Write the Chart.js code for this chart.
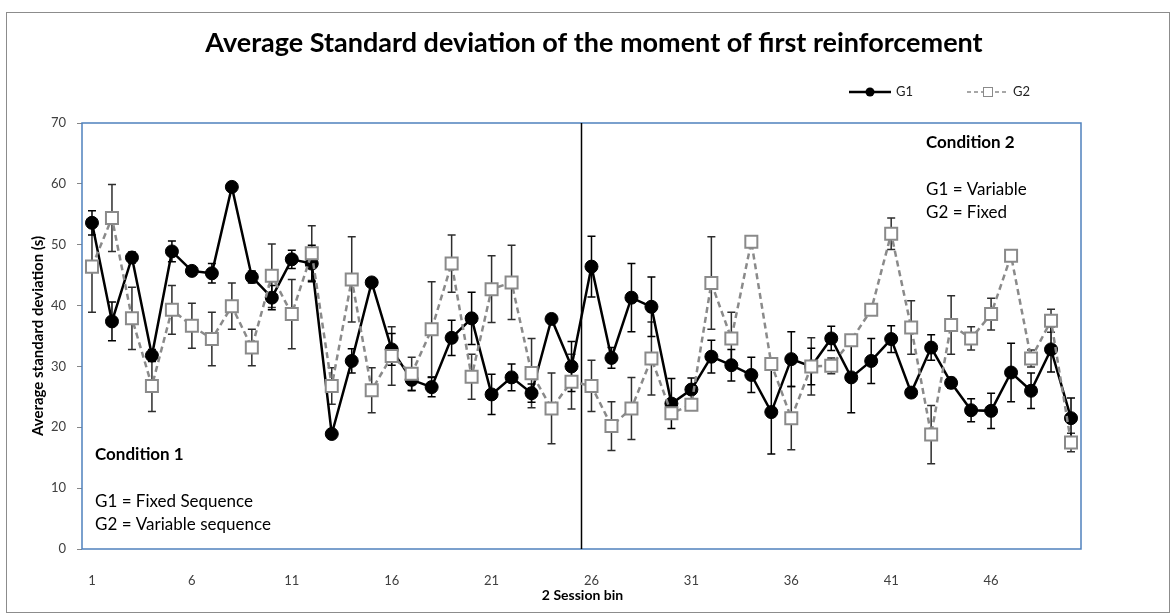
<!DOCTYPE html>
<html>
<head>
<meta charset="utf-8">
<title>Average standard deviation of the moment of first reinforcement</title>
<script src="https://cdn.jsdelivr.net/npm/chart.js@4.4.1/dist/chart.umd.min.js"></script>
<style>
  body { margin: 0; background: #fff; }
  canvas { display: block; }
</style>
</head>
<body>
<canvas id="sdChart" width="1175" height="615"></canvas>
<script>
const bins = ['1','2','3','4','5','6','7','8','9','10','11','12','13','14','15','16','17','18','19','20',
  '21','22','23','24','25','26','27','28','29','30','31','32','33','34','35','36','37','38','39','40',
  '41','42','43','44','45','46','47','48','49','50'];
const xTickLabels = ['1', '6', '11', '16', '21', '26', '31', '36', '41', '46'];
const yTicks = [0, 10, 20, 30, 40, 50, 60, 70];

// G1 mean and error per bin
const g1 = [53.6, 37.4, 47.9, 31.8, 48.9, 45.7, 45.3, 59.5, 44.7, 41.3,
  47.6, 46.9, 18.9, 30.9, 43.8, 32.8, 27.8, 26.6, 34.7, 37.9,
  25.4, 28.2, 25.6, 37.8, 30.0, 46.4, 31.4, 41.3, 39.8, 23.9,
  26.2, 31.6, 30.2, 28.6, 22.5, 31.2, 30.0, 34.6, 28.2, 30.9,
  34.5, 25.7, 33.1, 27.3, 22.8, 22.7, 29.0, 26.0, 32.8, 21.5];
const g1Err = [2.0, 3.2, 0.9, 1.0, 1.7, 0.5, 1.6, 0.4, 1.0, 2.0,
  1.5, 3.0, 0.5, 2.0, 0.4, 2.6, 1.8, 1.6, 2.9, 4.3,
  3.3, 2.2, 1.5, 0.3, 4.1, 5.0, 1.7, 5.6, 4.9, 4.1,
  1.9, 2.7, 2.6, 2.9, 6.9, 4.5, 3.0, 2.0, 5.8, 3.7,
  2.2, 0.3, 2.1, 0.9, 1.9, 2.9, 4.8, 2.9, 3.7, 3.3];

// G2 mean and error per bin
const g2 = [46.4, 54.4, 37.9, 26.8, 39.3, 36.7, 34.5, 39.9, 33.1, 44.9,
  38.6, 48.6, 26.8, 44.3, 26.1, 31.7, 28.8, 36.1, 46.9, 28.3,
  42.7, 43.8, 28.9, 23.1, 27.5, 26.8, 20.2, 23.1, 31.3, 22.3,
  23.7, 43.7, 34.6, 50.5, 30.4, 21.5, 30.0, 30.1, 34.3, 39.3,
  51.8, 36.4, 18.8, 36.8, 34.6, 38.6, 48.2, 31.3, 37.5, 17.5];
const g2Err = [7.5, 5.5, 5.1, 4.2, 4.0, 3.7, 4.4, 3.8, 3.0, 5.2,
  5.7, 4.5, 3.0, 7.0, 3.7, 4.8, 2.7, 7.8, 4.7, 3.7,
  5.5, 6.1, 5.7, 5.8, 4.5, 4.2, 4.0, 5.1, 6.0, 1.0,
  0.5, 7.6, 4.3, 0.3, 1.0, 5.2, 4.7, 1.3, 0.5, 0.3,
  2.6, 4.4, 4.8, 4.8, 1.9, 2.6, 0.3, 1.4, 1.9, 1.5];

const fontFamily = 'Lato, "Open Sans", sans-serif';
const g2Grey = '#8a8a8a';

function drawErrorBars(ctx, x, y, means, errs, color) {
  ctx.strokeStyle = color;
  ctx.lineWidth = 1.5;
  means.forEach((m, i) => {
    const px = x.getPixelForValue(i);
    const top = y.getPixelForValue(m + errs[i]);
    const bot = y.getPixelForValue(m - errs[i]);
    ctx.beginPath();
    ctx.moveTo(px, top);
    ctx.lineTo(px, bot);
    ctx.moveTo(px - 4, top);
    ctx.lineTo(px + 4, top);
    ctx.moveTo(px - 4, bot);
    ctx.lineTo(px + 4, bot);
    ctx.stroke();
  });
}

const decorations = {
  id: 'decorations',
  beforeDraw(chart) {
    const ctx = chart.ctx;
    ctx.save();
    ctx.fillStyle = '#fff';
    ctx.fillRect(0, 0, chart.width, chart.height);
    ctx.restore();
  },
  beforeDatasetsDraw(chart) {
    const { ctx, chartArea: a, scales: { x, y } } = chart;
    ctx.save();
    // plot frame
    ctx.strokeStyle = '#4f81bd';
    ctx.lineWidth = 1.5;
    ctx.strokeRect(a.left, a.top, a.right - a.left, a.bottom - a.top);

    // divider between condition 1 and condition 2
    const split = (x.getPixelForValue(24) + x.getPixelForValue(25)) / 2;
    ctx.strokeStyle = '#000';
    ctx.lineWidth = 1.5;
    ctx.beginPath();
    ctx.moveTo(split, a.top);
    ctx.lineTo(split, a.bottom);
    ctx.stroke();

    drawErrorBars(ctx, x, y, g2, g2Err, '#2e2e2e');
    drawErrorBars(ctx, x, y, g1, g1Err, '#000');
    ctx.restore();
  },
  afterDraw(chart) {
    const { ctx, chartArea: a } = chart;
    ctx.save();

    // outer frame
    ctx.strokeStyle = '#8c8c8c';
    ctx.lineWidth = 1;
    ctx.strokeRect(6.5, 12.5, 1163, 600);

    ctx.fillStyle = '#000';
    ctx.textAlign = 'center';
    ctx.textBaseline = 'middle';
    ctx.font = 'bold 27px ' + fontFamily;
    ctx.fillText('Average Standard deviation of the moment of first reinforcement', 594, 43);

    ctx.font = 'bold 14px ' + fontFamily;
    ctx.fillText('2 Session bin', (a.left + a.right) / 2 + 1, 595);

    ctx.save();
    ctx.translate(38, (a.top + a.bottom) / 2);
    ctx.rotate(-Math.PI / 2);
    ctx.font = 'bold 15px ' + fontFamily;
    ctx.fillText('Average standard deviation (s)', 0, 0);
    ctx.restore();

    // legend
    ctx.lineWidth = 2.5;
    ctx.strokeStyle = '#000';
    ctx.beginPath();
    ctx.moveTo(849, 92);
    ctx.lineTo(891, 92);
    ctx.stroke();
    ctx.fillStyle = '#000';
    ctx.beginPath();
    ctx.arc(870, 92, 4.5, 0, Math.PI * 2);
    ctx.fill();

    ctx.strokeStyle = g2Grey;
    ctx.lineWidth = 1.5;
    ctx.setLineDash([4, 3]);
    ctx.beginPath();
    ctx.moveTo(967, 92);
    ctx.lineTo(1008, 92);
    ctx.stroke();
    ctx.setLineDash([]);
    ctx.fillStyle = '#fff';
    ctx.fillRect(983, 87, 10, 10);
    ctx.lineWidth = 1;
    ctx.strokeRect(983.5, 87.5, 9, 9);

    ctx.fillStyle = '#222';
    ctx.textAlign = 'left';
    ctx.font = '13px ' + fontFamily;
    ctx.fillText('G1', 896, 92);
    ctx.fillText('G2', 1013, 92);

    // condition notes
    ctx.fillStyle = '#000';
    ctx.font = 'bold 17px ' + fontFamily;
    ctx.fillText('Condition 1', 95, 455);
    ctx.fillText('Condition 2', 926, 143);
    ctx.font = '17px ' + fontFamily;
    ctx.fillText('G1 = Fixed Sequence', 95, 502);
    ctx.fillText('G2 = Variable sequence', 95, 525);
    ctx.fillText('G1 = Variable', 926, 190);
    ctx.fillText('G2 = Fixed', 926, 213);

    ctx.restore();
  }
};

new Chart(document.getElementById('sdChart'), {
  type: 'line',
  data: {
    labels: bins,
    datasets: [
      {
        label: 'G1',
        data: g1,
        order: 1,
        borderColor: '#000',
        borderWidth: 2.5,
        pointStyle: 'circle',
        pointRadius: 6.5,
        pointBackgroundColor: '#000',
        pointBorderColor: '#000',
        pointBorderWidth: 1,
        tension: 0
      },
      {
        label: 'G2',
        data: g2,
        order: 0,
        borderColor: g2Grey,
        borderWidth: 2.5,
        borderDash: [6, 4],
        pointStyle: 'rect',
        pointRadius: 8.5,
        pointBackgroundColor: '#fff',
        pointBorderColor: g2Grey,
        pointBorderWidth: 2,
        tension: 0
      }
    ]
  },
  options: {
    responsive: false,
    animation: false,
    devicePixelRatio: 1,
    layout: { padding: { top: 123, right: 94, left: 0, bottom: 0 } },
    plugins: {
      legend: { display: false },
      title: { display: false },
      tooltip: { enabled: false }
    },
    scales: {
      x: {
        type: 'category',
        offset: true,
        grid: { display: false },
        border: { display: false },
        afterFit(scale) { scale.height = 66; },
        ticks: {
          autoSkip: false,
          maxRotation: 0,
          padding: 16,
          color: '#404040',
          font: { family: fontFamily, size: 13 },
          callback(value) {
            const label = this.getLabelForValue(value);
            return xTickLabels.includes(label) ? label : '';
          }
        }
      },
      y: {
        min: yTicks[0],
        max: yTicks[yTicks.length - 1],
        afterFit(scale) { scale.width = 82; },
        grid: { drawOnChartArea: false, drawTicks: true, tickLength: 5, color: '#868686' },
        border: { display: false },
        ticks: {
          stepSize: 10,
          padding: 11,
          color: '#404040',
          font: { family: fontFamily, size: 13 }
        }
      }
    }
  },
  plugins: [decorations]
});
</script>
</body>
</html>
